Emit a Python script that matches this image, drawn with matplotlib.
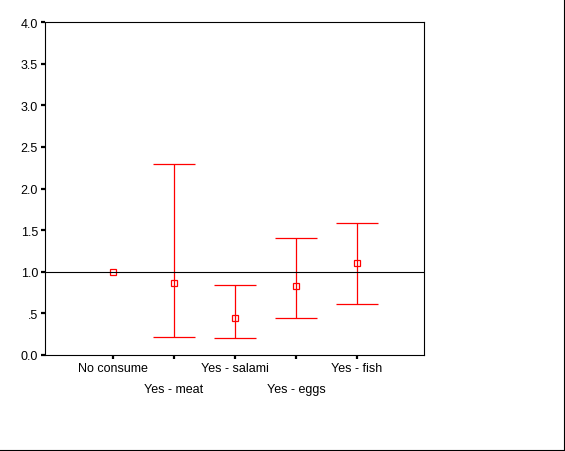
import numpy as np
import matplotlib
matplotlib.use('Agg')
import matplotlib.pyplot as plt
from matplotlib.lines import Line2D

plt.rcParams['font.family'] = ['Liberation Sans', 'DejaVu Sans']

# --- data
cats = ['No consume', 'Yes - meat', 'Yes - salami', 'Yes - eggs', 'Yes - fish']
est = [1.0, 0.87, 0.44, 0.83, 1.10]
lower = [np.nan, 0.22, 0.21, 0.45, 0.61]
upper = [np.nan, 2.29, 0.84, 1.40, 1.59]
yticks = [0.0, 0.5, 1.0, 1.5, 2.0, 2.5, 3.0, 3.5, 4.0]
ytick_labels = ['0.0', '.5', '1.0', '1.5', '2.0', '2.5', '3.0', '3.5', '4.0']

RED = '#ff0000'
fig = plt.figure(figsize=(5.65, 4.52), dpi=100)
ax = fig.add_axes([0.0796, 0.2124, 0.6717, 0.7367])

x = np.arange(len(cats))
est_a = np.array(est)
yerr = np.vstack([est_a - np.array(lower), np.array(upper) - est_a])
ax.errorbar(x, est_a, yerr=yerr, fmt='none', ecolor=RED, elinewidth=0.9,
            capsize=14.8, capthick=0.9)
ax.plot(x, est_a, ls='none', marker='s', ms=5, mfc='none', mec=RED,
        mew=0.9)
ax.axhline(1.0, color='black', lw=0.8)

ax.set_xlim(-1.115, 5.107)
ax.set_ylim(0, 4.0)
ax.set_yticks(yticks)
ax.set_yticklabels(ytick_labels)
ax.set_xticks(x)
ax.set_xticklabels(cats)
for i, lab in enumerate(ax.get_xticklabels()):
    if i % 2 == 1:
        lab.set_y(-0.063)

for s in ax.spines.values():
    s.set_linewidth(0.8)
ax.tick_params(axis='both', direction='out', length=3, width=1.6,
               labelsize=9, pad=2, color='black')

# thin frame remnants on the figure's right and bottom edges
fig.add_artist(Line2D([0.9985, 0.9985], [0, 1], transform=fig.transFigure,
                      color='black', lw=0.8))
fig.add_artist(Line2D([0, 1], [0.0015, 0.0015], transform=fig.transFigure,
                      color='black', lw=0.8))

fig.savefig('out.png', dpi=100)
